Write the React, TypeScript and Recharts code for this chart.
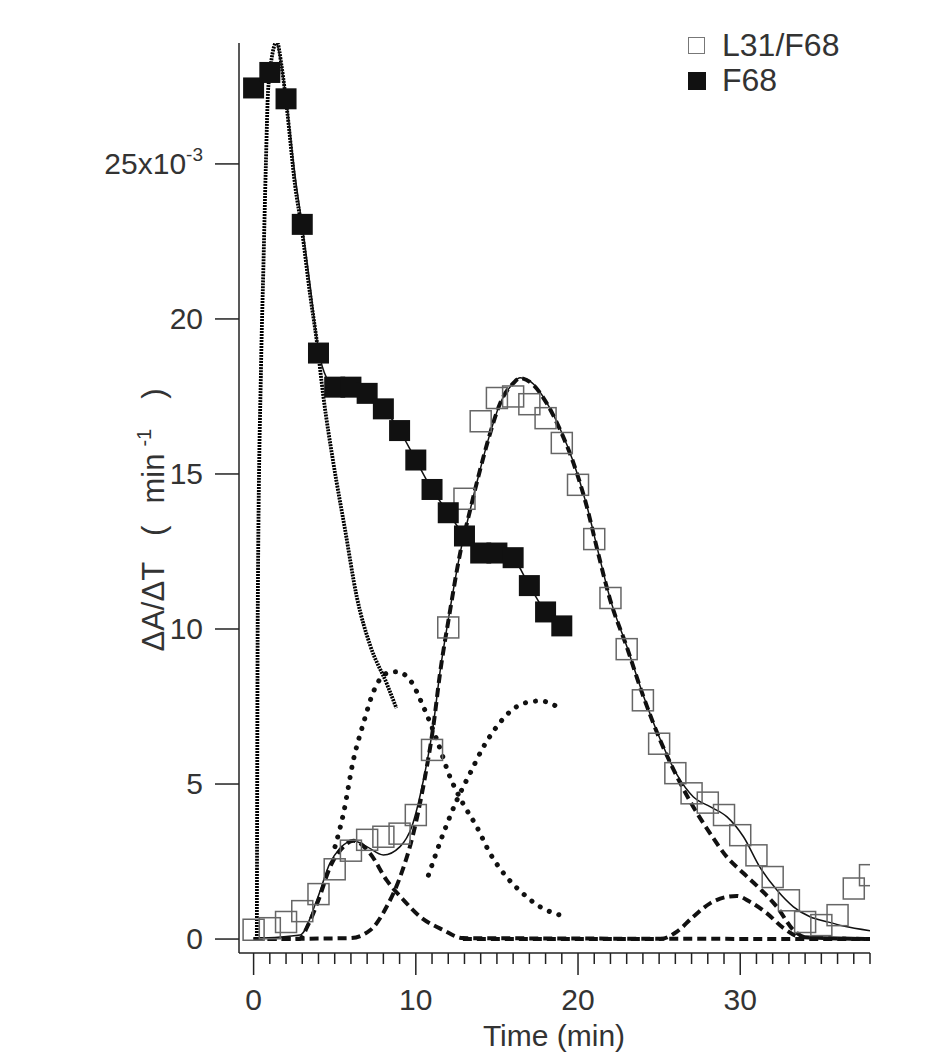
import { ComposedChart, Label, Line, Scatter, XAxis, YAxis } from 'recharts'

const FONT = '"Liberation Sans", Arial, Helvetica, sans-serif'
const INK = '#222'
const TEXT = '#333'

// measured points, one per minute
const l31Time = [0, 1, 2, 3, 4, 5, 6, 7, 8, 9, 10, 11, 12, 13, 14, 15, 16, 17, 18, 19, 20, 21, 22, 23, 24, 25, 26, 27, 28, 29, 30, 31, 32, 33, 34, 35, 36, 37, 38]
const l31Rate = [0.3, 0.35, 0.55, 0.9, 1.45, 2.25, 2.85, 3.2, 3.3, 3.4, 4.0, 6.1, 10.05, 14.2, 16.7, 17.45, 17.5, 17.25, 16.8, 16.0, 14.65, 12.9, 11.0, 9.35, 7.7, 6.3, 5.35, 4.7, 4.4, 4.0, 3.35, 2.7, 2.0, 1.25, 0.55, 0.45, 0.77, 1.63, 2.06]

const f68Time = [0, 1, 2, 3, 4, 5, 6, 7, 8, 9, 10, 11, 12, 13, 14, 15, 16, 17, 18, 19]
const f68Rate = [27.45, 27.95, 27.1, 23.05, 18.9, 17.8, 17.8, 17.6, 17.1, 16.4, 15.45, 14.5, 13.75, 13.0, 12.45, 12.45, 12.3, 11.4, 10.55, 10.1]

// fitted curves as [time, rate]
const f68Fit: [number, number][] = [
  [1.43, 28.94], [1.74, 28.1], [2.05, 26.9], [2.56, 24.6], [3.0, 23.0], [3.5, 21.0], [4.0, 19.0], [4.5, 18.1],
  [5, 17.85], [6, 17.75], [7, 17.55], [8, 17.1], [9, 16.4], [10, 15.45], [11, 14.5], [12, 13.75], [13, 13.0],
  [14, 12.5], [15, 12.4], [16, 12.25], [17, 11.4], [18, 10.55], [19, 10.1],
]
const fastPeak: [number, number][] = [
  [0.2, 0], [0.26, 10.9], [0.46, 18.5], [0.6, 21.6], [0.75, 24.86], [0.91, 27.5], [1.43, 28.94], [1.74, 28.1],
  [2.05, 26.8], [2.56, 24.3], [2.97, 22.9], [3.48, 20.8], [3.9, 19.27], [4.3, 17.5], [4.92, 15.35], [5.64, 13.2],
  [6.36, 11.04], [7.2, 9.45], [8.2, 8.25], [8.8, 7.45],
]
const f68CompA: [number, number][] = [
  [5.02, 2.98], [5.54, 4.05], [6.15, 5.77], [6.77, 6.96], [7.39, 7.98], [8.2, 8.57], [8.83, 8.62], [9.65, 8.35],
  [10.47, 7.49], [11.3, 6.42], [12.1, 5.24], [12.9, 4.38], [13.76, 3.62], [14.58, 2.76], [15.6, 2.0], [16.6, 1.47],
  [17.66, 1.04], [18.9, 0.77],
]
const f68CompB: [number, number][] = [
  [10.78, 2.06], [11.7, 3.41], [12.53, 4.48], [13.35, 5.35], [14.17, 6.2], [14.99, 6.85], [15.8, 7.33],
  [16.63, 7.6], [17.66, 7.68], [18.9, 7.44],
]
const l31Early: [number, number][] = [
  [0, 0], [2.8, 0], [3.4, 0.5], [4.0, 1.26], [4.72, 2.33], [5.54, 2.98], [6.15, 3.17], [7.18, 2.76], [8.2, 1.9],
  [9.24, 1.26], [10.27, 0.72], [11.7, 0.29], [12.9, 0.03], [38, 0],
]
const l31Main: [number, number][] = [
  [0, 0], [5.95, 0.03], [7.2, 0.29], [8.2, 1.04], [9.03, 2.0], [9.85, 3.41], [10.47, 4.95], [11.09, 6.9],
  [11.5, 8.6], [12.05, 10.4], [12.73, 12.44], [13.35, 13.84], [13.96, 15.13], [14.58, 16.31], [15.2, 17.28],
  [16.0, 17.92], [16.43, 18.09], [17.25, 17.87], [18.07, 17.28], [18.9, 16.42], [19.72, 15.35], [20.54, 13.95],
  [21.26, 12.4], [21.98, 10.94], [23.0, 9.43], [24.03, 7.82], [25.06, 6.42], [26.1, 5.24], [27.1, 4.27],
  [28.14, 3.41], [29.17, 2.65], [30.2, 2.12], [31.2, 1.63], [32.26, 1.04], [33.28, 0.29], [34.1, 0.05], [38, 0],
]
const l31Late: [number, number][] = [
  [12.9, 0], [25.06, 0], [26.1, 0.24], [27.1, 0.72], [28.14, 1.15], [29.17, 1.36], [29.79, 1.39], [30.6, 1.2],
  [31.65, 0.83], [32.67, 0.35], [33.7, 0.07], [38, 0],
]
const l31Fit: [number, number][] = [
  [0, 0.02], [2.87, 0.13], [3.9, 1.26], [4.7, 2.44], [5.33, 2.93], [6.15, 3.17], [6.98, 2.98], [8.0, 2.71],
  [9.03, 2.98], [9.75, 3.62], [10.47, 5.13], [11.09, 6.95], [11.5, 8.65], [12.05, 10.45], [12.73, 12.44],
  [13.35, 13.84], [13.96, 15.13], [14.58, 16.31], [15.2, 17.28], [16.0, 17.92], [16.43, 18.1], [17.25, 17.9],
  [18.07, 17.3], [18.9, 16.45], [19.72, 15.38], [20.54, 13.98], [21.26, 12.45], [21.98, 10.98], [23.0, 9.45],
  [24.03, 7.85], [25.06, 6.45], [26.1, 5.3], [27.1, 4.59], [28.14, 4.27], [29.17, 3.95], [30.2, 3.3],
  [31.2, 2.33], [32.26, 1.58], [33.28, 1.04], [34.3, 0.72], [35.34, 0.56], [36.36, 0.42], [38.0, 0.27],
]

const xTicks = [0, 1, 2, 3, 4, 5, 6, 7, 8, 9, 10, 11, 12, 13, 14, 15, 16, 17, 18, 19, 20, 21, 22, 23, 24, 25, 26, 27, 28, 29, 30, 31, 32, 33, 34, 35, 36, 37, 38]
const xMajor = [0, 10, 20, 30]
const yTicks = [0, 5, 10, 15, 20, 25]

const zip = (xs: number[], ys: number[]) => xs.map((x, i) => ({ x, y: ys[i] }))
const pts = (pairs: [number, number][]) => pairs.map(([x, y]) => ({ x, y }))

function OpenSquare({ cx, cy }: { cx?: number; cy?: number }) {
  if (cx == null || cy == null) return null
  return <rect x={cx - 10.5} y={cy - 10.5} width={21} height={21} fill="none" stroke="#666" strokeWidth={1.5} />
}

function FilledSquare({ cx, cy }: { cx?: number; cy?: number }) {
  if (cx == null || cy == null) return null
  return <rect x={cx - 10.5} y={cy - 10.5} width={21} height={21} fill="#111" />
}

function TimeTick({ x, y, payload }: { x?: number; y?: number; payload?: { value: number } }) {
  if (x == null || y == null || !payload) return null
  const major = xMajor.includes(payload.value)
  return (
    <g>
      <line x1={x} y1={y} x2={x} y2={y + (major ? 22 : 11)} stroke={INK} strokeWidth={1.5} />
      {major && (
        <text x={x} y={y + 57} textAnchor="middle" fontSize={30} fill={TEXT} fontFamily={FONT}>
          {payload.value}
        </text>
      )}
    </g>
  )
}

function RateTick({ x, y, payload }: { x?: number; y?: number; payload?: { value: number } }) {
  if (x == null || y == null || !payload) return null
  const v = payload.value
  return (
    <g>
      <line x1={x - 24} y1={y} x2={x} y2={y} stroke={INK} strokeWidth={1.5} />
      <text x={x - 36} y={y + 10} textAnchor="end" fontSize={30} fill={TEXT} fontFamily={FONT}>
        {v === 25 ? (
          <>
            25x10<tspan dy={-13} fontSize={19}>-3</tspan>
          </>
        ) : (
          v
        )}
      </text>
    </g>
  )
}

// rotated title, with the wide spacing of the original label
const yTitle = () => (
  <text transform="translate(164, 520) rotate(-90)" textAnchor="middle" fontSize={31} fill={TEXT} fontFamily={FONT}>
    ΔA/ΔT<tspan dx={26}>(</tspan>
    <tspan dx={22}>min</tspan>
    <tspan dx={7} dy={-13} fontSize={20}>-1</tspan>
    <tspan dx={30} dy={13}>)</tspan>
  </text>
)

const xTitle = () => (
  <text x={554} y={1046} textAnchor="middle" fontSize={30} fill={TEXT} fontFamily={FONT}>
    Time (min)
  </text>
)

const dashed = { stroke: '#111', strokeWidth: 4, strokeDasharray: '9 5' }
const dotted = { stroke: '#111', strokeWidth: 5, strokeDasharray: '0.1 10', strokeLinecap: 'round' as const }

export default function App() {
  return (
    <div style={{ position: 'absolute', left: 0, top: 0, width: 942, height: 1057, background: '#fff' }}>
      <ComposedChart width={942} height={1057} margin={{ top: 43, right: 72, bottom: 44, left: 159 }}>
        <XAxis
          dataKey="x"
          type="number"
          domain={[-0.9, 38]}
          allowDataOverflow
          ticks={xTicks}
          interval={0}
          tickSize={0}
          tickMargin={0}
          tickLine={false}
          tick={<TimeTick />}
          height={60}
          axisLine={{ stroke: INK, strokeWidth: 1.5 }}
        >
          <Label content={xTitle} />
        </XAxis>
        <YAxis
          dataKey="y"
          type="number"
          domain={[-0.45, 28.9]}
          allowDataOverflow
          ticks={yTicks}
          interval={0}
          tickSize={0}
          tickMargin={0}
          tickLine={false}
          tick={<RateTick />}
          width={80}
          axisLine={{ stroke: INK, strokeWidth: 1.5 }}
        >
          <Label content={yTitle} />
        </YAxis>

        <Line data={pts(l31Early)} dataKey="y" type="monotone" dot={false} activeDot={false} isAnimationActive={false} {...dashed} />
        <Line data={pts(l31Late)} dataKey="y" type="monotone" dot={false} activeDot={false} isAnimationActive={false} {...dashed} />
        <Line data={pts(l31Main)} dataKey="y" type="monotone" dot={false} activeDot={false} isAnimationActive={false} {...dashed} />
        <Line data={pts(f68CompA)} dataKey="y" type="monotone" dot={false} activeDot={false} isAnimationActive={false} {...dotted} />
        <Line data={pts(f68CompB)} dataKey="y" type="monotone" dot={false} activeDot={false} isAnimationActive={false} {...dotted} />
        <Line
          data={pts(fastPeak)}
          dataKey="y"
          type="monotone"
          dot={false}
          activeDot={false}
          isAnimationActive={false}
          stroke="#000"
          strokeWidth={3.8}
          strokeDasharray="2 1"
        />
        <Line data={pts(f68Fit)} dataKey="y" type="monotone" dot={false} activeDot={false} isAnimationActive={false} stroke="#111" strokeWidth={1.5} />
        <Line data={pts(l31Fit)} dataKey="y" type="monotone" dot={false} activeDot={false} isAnimationActive={false} stroke="#111" strokeWidth={1.5} />

        <Scatter data={zip(l31Time, l31Rate)} shape={<OpenSquare />} isAnimationActive={false} />
        <Scatter data={zip(f68Time, f68Rate)} shape={<FilledSquare />} isAnimationActive={false} />
      </ComposedChart>

      <div style={{ position: 'absolute', left: 688, top: 28, fontFamily: FONT, fontSize: 32, color: TEXT, lineHeight: '35px' }}>
        <div style={{ display: 'flex', alignItems: 'center' }}>
          <span style={{ width: 15, height: 15, border: '1.5px solid #777', marginRight: 17, display: 'inline-block' }} />
          L31/F68
        </div>
        <div style={{ display: 'flex', alignItems: 'center' }}>
          <span style={{ width: 18, height: 18, background: '#111', marginRight: 16, display: 'inline-block' }} />
          F68
        </div>
      </div>
    </div>
  )
}
